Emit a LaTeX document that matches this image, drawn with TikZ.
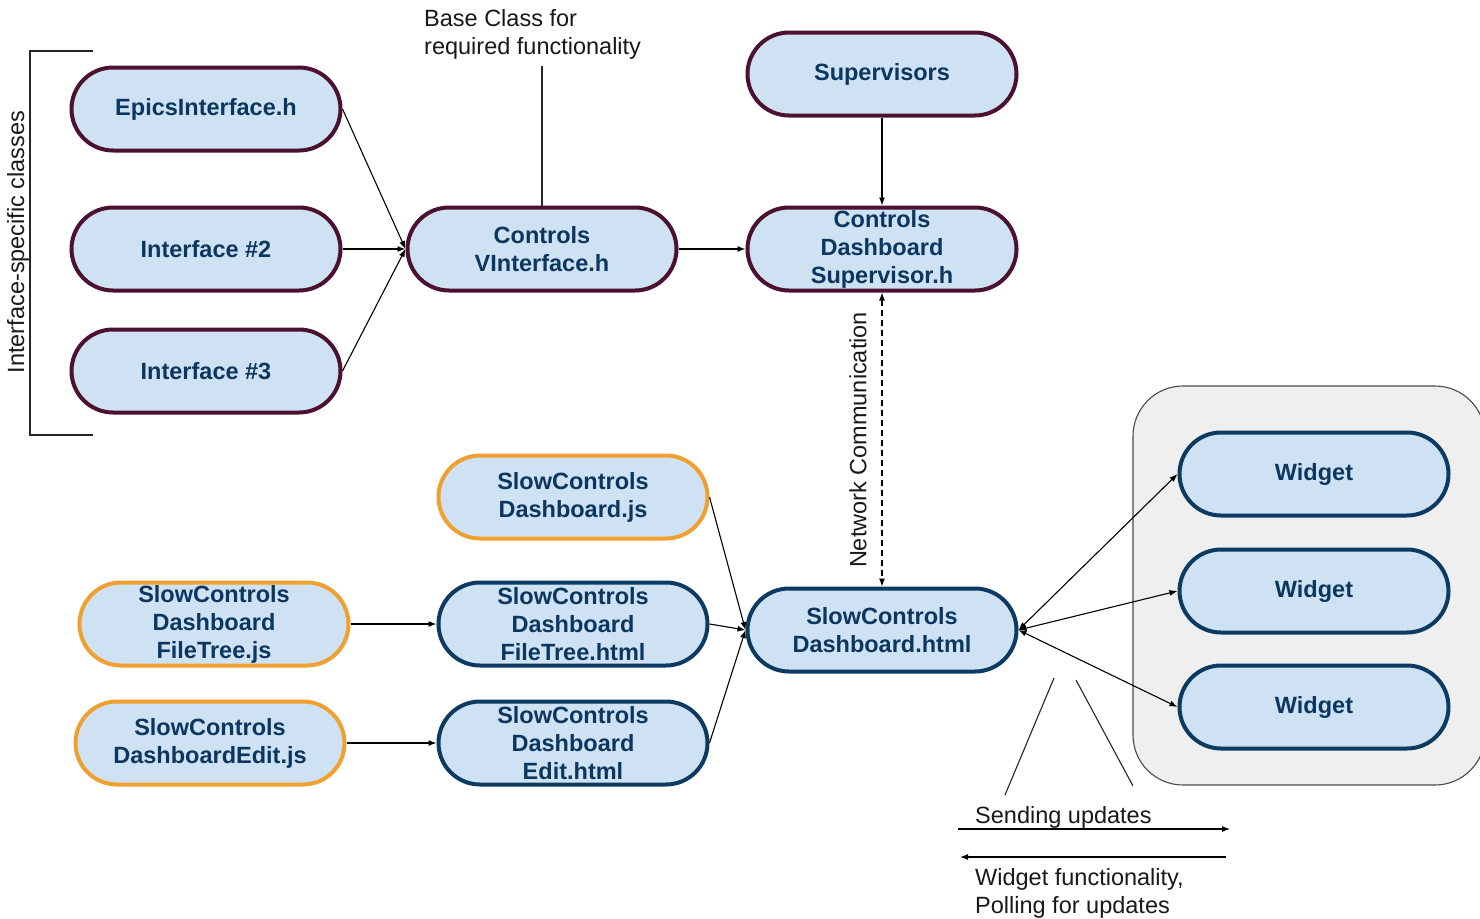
\documentclass[tikz,border=0pt]{standalone}
\usepackage{fontspec}
\setmainfont{Liberation Sans}
\usetikzlibrary{arrows.meta}
\definecolor{nodefill}{HTML}{CFE2F3}
\definecolor{nodetext}{HTML}{0B365F}
\definecolor{maroonc}{HTML}{4C1130}
\definecolor{bluec}{HTML}{0B3A62}
\definecolor{orangec}{HTML}{F0A030}
\definecolor{boxgray}{HTML}{EFEFEF}
\definecolor{boxline}{HTML}{4A4A4A}
\tikzset{
  pill/.style={rectangle, rounded corners=41.5pt, minimum width=269pt, minimum height=83pt,
    line width=4pt, fill=nodefill, text=nodetext, align=center, inner sep=0pt,
    font=\bfseries\fontsize{23.5}{28}\selectfont},
  maroonbox/.style={pill, draw=maroonc},
  bluebox/.style={pill, draw=bluec},
  orangebox/.style={pill, draw=orangec},
  conn/.style={-{Latex[length=8pt,width=6pt]}, line width=1.1pt, draw=black},
  dconn/.style={{Latex[length=8pt,width=6pt]}-{Latex[length=8pt,width=6pt]}, line width=1.1pt, draw=black},
  plainline/.style={line width=1.1pt, draw=black!85},
  lbl/.style={font=\fontsize{23.5}{28}\selectfont, text=black!90, inner sep=0pt},
}
\begin{document}
\begin{tikzpicture}[x=1pt,y=-1pt]
\useasboundingbox (0,0) rectangle (1480,918);
\fill[white] (0,0) rectangle (1480,918);

% widget container
\draw[fill=boxgray, draw=boxline, line width=1.1pt, rounded corners=50pt] (1133,386) rectangle (1485,785);

% bracket
\coordinate (bt) at (93,51);
\coordinate (btl) at (30,51);
\coordinate (bbl) at (30,435);
\coordinate (bb) at (93,435);
\draw[plainline] (bt) -- (btl) -- (bbl) -- (bb);
\node[lbl, rotate=90] (isc) at (18,242) {Interface-specific classes};

% nodes
\node[maroonbox] (epics) at (206,109) {EpicsInterface.h};
\node[maroonbox] (if2) at (206,249) {Interface \#2};
\node[maroonbox] (if3) at (206,371) {Interface \#3};
\node[maroonbox] (vint) at (542,249) {Controls\\VInterface.h};
\node[maroonbox] (sup) at (882,74) {Supervisors};
\node[maroonbox] (cds) at (882,249) {Controls\\Dashboard\\Supervisor.h};

\node[orangebox] (djs) at (573,497) {SlowControls\\Dashboard.js};
\node[orangebox] (ftjs) at (214,624) {SlowControls\\Dashboard\\FileTree.js};
\node[bluebox] (fthtml) at (573,624) {SlowControls\\Dashboard\\FileTree.html};
\node[orangebox] (edjs) at (210,743) {SlowControls\\DashboardEdit.js};
\node[bluebox] (edhtml) at (573,743) {SlowControls\\Dashboard\\Edit.html};
\node[bluebox] (dhtml) at (882,630) {SlowControls\\Dashboard.html};

\node[bluebox] (w1) at (1314,474) {Widget};
\node[bluebox] (w2) at (1314,591) {Widget};
\node[bluebox] (w3) at (1314,707) {Widget};

% base class label
\node[lbl, align=left, anchor=north west] (base) at (424,9) {Base Class for\\required functionality};
\coordinate (basetail) at (542,66);
\draw[plainline] (basetail) -- (vint.north);

% connectors
\draw[conn] (epics.east) -- (vint.west);
\draw[conn] (if2.east) -- (vint.west);
\draw[conn] (if3.east) -- (vint.west);
\draw[conn] (vint.east) -- (cds.west);
\draw[conn] (sup.south) -- (cds.north);
\draw[dconn, dashed, dash pattern=on 6pt off 4pt] (cds.south) -- (dhtml.north);
\node[lbl, rotate=90] (netc) at (858,440) {Network Communication};

\draw[conn] (djs.east) -- (dhtml.west);
\draw[conn] (fthtml.east) -- (dhtml.west);
\draw[conn] (edhtml.east) -- (dhtml.west);
\draw[conn] (ftjs.east) -- (fthtml.west);
\draw[conn] (edjs.east) -- (edhtml.west);

\draw[dconn] (dhtml.east) -- (w1.west);
\draw[dconn] (dhtml.east) -- (w2.west);
\draw[dconn] (dhtml.east) -- (w3.west);

% callout lines
\coordinate (c1a) at (1054,678);
\coordinate (c1b) at (1005,795);
\coordinate (c2a) at (1076,680);
\coordinate (c2b) at (1133,786);
\draw[plainline] (c1a) -- (c1b);
\draw[plainline] (c2a) -- (c2b);

\node[lbl, anchor=base west] (send) at (975,823) {Sending updates};
\coordinate (s1) at (958,829);
\coordinate (s2) at (1230,829);
\draw[conn] (s1) -- (s2);
\coordinate (p1) at (1226,857);
\coordinate (p2) at (960,857);
\draw[conn] (p1) -- (p2);
\node[lbl, align=left, anchor=north west] (poll) at (975,868) {Widget functionality,\\Polling for updates};
\end{tikzpicture}
\end{document}
